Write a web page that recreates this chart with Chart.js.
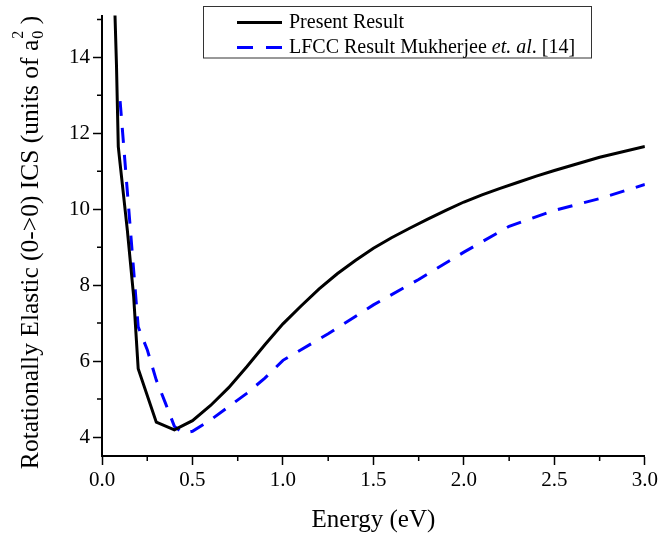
<!DOCTYPE html>
<html>
<head>
<meta charset="utf-8">
<script src="https://cdn.jsdelivr.net/npm/chart.js@4"></script>
<style>
  html, body { margin: 0; padding: 0; background: #fff; }
  #wrap { width: 661px; height: 536px; }
</style>
</head>
<body>
<div id="wrap"><canvas id="cv" width="661" height="536"></canvas></div>
<script>
// values
const presentE = [0.07, 0.08, 0.09, 0.1, 0.14, 0.175, 0.2, 0.3, 0.4, 0.5, 0.6, 0.7, 0.8, 0.9, 1.0,
                  1.1, 1.2, 1.3, 1.4, 1.5, 1.6, 1.7, 1.8, 1.9, 2.0, 2.1, 2.2, 2.3, 2.4, 2.5, 2.75, 3.0];
const presentICS = [15.4, 13.8, 11.65, 11.2, 9.45, 7.7, 5.8, 4.39, 4.19, 4.43, 4.83, 5.3, 5.85, 6.43, 6.98,
                    7.45, 7.9, 8.3, 8.65, 8.97, 9.25, 9.5, 9.74, 9.97, 10.19, 10.38, 10.55, 10.71, 10.87, 11.02, 11.37, 11.65];

const lfccE = [0.1, 0.2, 0.25, 0.3, 0.35, 0.4, 0.45, 0.5, 0.6, 0.7, 0.8, 0.9, 1.0,
               1.25, 1.5, 1.75, 2.0, 2.25, 2.5, 2.75, 3.0];
const lfccICS = [12.85, 6.9, 6.3, 5.5, 4.9, 4.28, 4.1, 4.15, 4.45, 4.8, 5.15, 5.55, 6.02,
                 6.72, 7.48, 8.15, 8.87, 9.55, 9.97, 10.28, 10.65];

const xTicks = [0, 0.5, 1.0, 1.5, 2.0, 2.5, 3.0];
const xMinor = [0.25, 0.75, 1.25, 1.75, 2.25, 2.75];
const yTicks = [4, 6, 8, 10, 12, 14];
const yMinor = [5, 7, 9, 11, 13, 15];

const legendLabels = ['Present Result', 'LFCC Result Mukherjee '];

const SERIF = '"Liberation Serif", "Times New Roman", serif';

function pts(xs, ys) {
    return xs.map((x, i) => ({ x: x, y: ys[i] }));
}

// minor ticks, titles and the boxed legend
const extras = {
    id: 'extras',
    afterDraw(chart) {
        const ctx = chart.ctx;
        const xs = chart.scales.x, ys = chart.scales.y;
        const area = chart.chartArea;
        ctx.save();
        ctx.strokeStyle = '#000';
        ctx.lineWidth = 1.5;
        ctx.beginPath();
        xMinor.forEach(v => {
            const px = xs.getPixelForValue(v);
            ctx.moveTo(px, area.bottom);
            ctx.lineTo(px, area.bottom + 5);
        });
        yMinor.forEach(v => {
            const py = ys.getPixelForValue(v);
            ctx.moveTo(area.left, py);
            ctx.lineTo(area.left - 5, py);
        });
        ctx.stroke();

        // x title
        ctx.fillStyle = '#000';
        ctx.font = '25px ' + SERIF;
        ctx.textAlign = 'center';
        ctx.textBaseline = 'middle';
        ctx.fillText('Energy (eV)', (area.left + area.right) / 2, 520);

        // y title, rotated, with a_0^2
        ctx.save();
        ctx.translate(30, 243);
        ctx.rotate(-Math.PI / 2);
        const main = 'Rotationally Elastic (0->0) ICS (units of a';
        const tail = ' )';
        ctx.font = '25.5px ' + SERIF;
        const wMain = ctx.measureText(main).width;
        const wTail = ctx.measureText(tail).width;
        ctx.font = '16px ' + SERIF;
        const wScr = Math.max(ctx.measureText('0').width, ctx.measureText('2').width);
        const total = wMain + wScr + wTail;
        let x0 = -total / 2;
        ctx.textAlign = 'left';
        ctx.textBaseline = 'alphabetic';
        ctx.font = '25.5px ' + SERIF;
        ctx.fillText(main, x0, 8);
        x0 += wMain;
        ctx.font = '16px ' + SERIF;
        ctx.fillText('0', x0 + 1, 13);
        ctx.fillText('2', x0 + 1, -7);
        x0 += wScr + 1;
        ctx.font = '25.5px ' + SERIF;
        ctx.fillText(tail, x0, 8);
        ctx.restore();

        // legend box
        ctx.lineWidth = 1;
        ctx.strokeStyle = '#333';
        ctx.strokeRect(203.5, 6.5, 388, 51.5);
        ctx.lineWidth = 3;
        ctx.strokeStyle = '#000';
        ctx.beginPath();
        ctx.moveTo(237, 22.5);
        ctx.lineTo(282, 22.5);
        ctx.stroke();
        ctx.strokeStyle = '#0000ff';
        ctx.setLineDash([16, 13]);
        ctx.beginPath();
        ctx.moveTo(237, 47.5);
        ctx.lineTo(282, 47.5);
        ctx.stroke();
        ctx.setLineDash([]);
        ctx.fillStyle = '#000';
        ctx.font = '20px ' + SERIF;
        ctx.textAlign = 'left';
        ctx.textBaseline = 'middle';
        ctx.fillText(legendLabels[0], 289, 23);
        let lx = 289;
        ctx.fillText(legendLabels[1], lx, 48);
        lx += ctx.measureText(legendLabels[1]).width;
        ctx.font = 'italic 20px ' + SERIF;
        ctx.fillText('et. al', lx, 48);
        lx += ctx.measureText('et. al').width;
        ctx.font = '20px ' + SERIF;
        ctx.fillText('. [14]', lx, 48);
        ctx.restore();
    }
};

new Chart(document.getElementById('cv'), {
    type: 'line',
    data: {
        datasets: [{
            label: 'Present Result',
            data: pts(presentE, presentICS),
            borderColor: '#000',
            borderWidth: 3,
            pointRadius: 0,
            tension: 0,
            fill: false
        }, {
            label: 'LFCC Result Mukherjee et. al. [14]',
            data: pts(lfccE, lfccICS),
            borderColor: '#0000ff',
            borderWidth: 3,
            borderDash: [15, 12],
            pointRadius: 0,
            tension: 0,
            fill: false
        }]
    },
    options: {
        responsive: false,
        animation: false,
        devicePixelRatio: 1,
        layout: { padding: { left: 0, right: 13, top: 13, bottom: 0 } },
        plugins: {
            legend: { display: false },
            tooltip: { enabled: false }
        },
        scales: {
            x: {
                type: 'linear',
                min: 0,
                max: 3,
                afterBuildTicks: s => { s.ticks = xTicks.map(v => ({ value: v })); },
                afterFit: s => { s.height = 80; },
                border: { color: '#000', width: 2 },
                grid: { drawOnChartArea: false, tickLength: 9, tickColor: '#000', tickWidth: 1.5 },
                ticks: {
                    color: '#000',
                    padding: 3,
                    maxRotation: 0,
                    font: { family: SERIF, size: 21 },
                    callback: v => v.toFixed(1)
                }
            },
            y: {
                type: 'linear',
                min: 3.5,
                max: 15.1,
                afterBuildTicks: s => { s.ticks = yTicks.map(v => ({ value: v })); },
                afterFit: s => { s.width = 102; },
                border: { color: '#000', width: 2 },
                grid: { drawOnChartArea: false, tickLength: 9, tickColor: '#000', tickWidth: 1.5 },
                ticks: {
                    color: '#000',
                    padding: 3,
                    font: { family: SERIF, size: 21 },
                    callback: v => String(v)
                }
            }
        }
    },
    plugins: [extras]
});
</script>
</body>
</html>
